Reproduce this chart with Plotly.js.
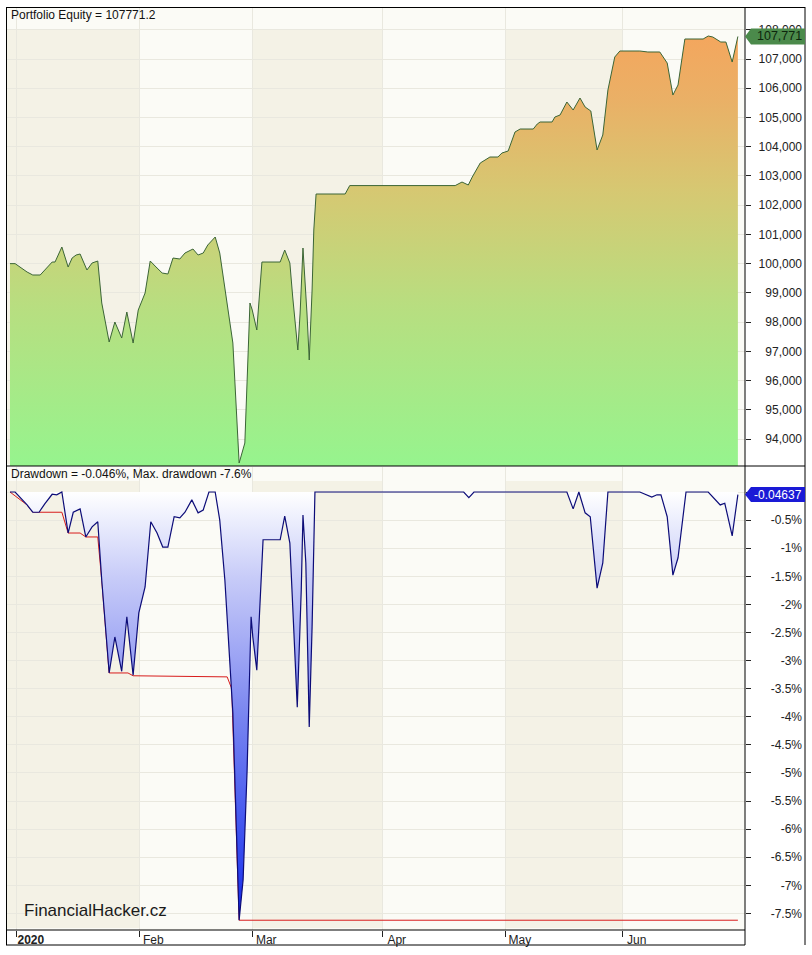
<!DOCTYPE html>
<html><head><meta charset="utf-8">
<script src="https://cdn.plot.ly/plotly-3.0.1.min.js"></script>
<style>html,body{margin:0;padding:0;background:#fff}#chart{width:812px;height:955px}</style>
</head><body><div id="chart"></div>
<script>
// ---- data (x = trading-bar index) ----
const eqX = [0,0.9,3.0,4.0,5.3,6.1,7.4,7.9,9.1,10.2,10.9,11.6,12.3,13.5,14.4,15.4,16.1,17.4,18.4,19.6,20.5,21.6,22.5,23.7,24.6,25.8,26.7,27.7,28.6,29.8,30.7,32.1,33.0,33.9,34.7,36.0,36.8,39.1,40.2,41.2,42.1,42.5,43.3,44.2,47.4,48.2,49.1,49.6,50.5,50.9,51.4,52.1,52.5,53.0,53.3,53.7,58.8,59.6,78.1,79.3,80.4,81.1,82.5,84.2,85.6,86.3,87.4,88.6,89.5,91.8,92.5,93.0,95.1,95.6,96.5,97.7,98.8,100.0,100.9,101.9,103.0,104.0,104.9,106.1,107.0,110.5,111.9,114.0,115.3,116.3,117.2,118.4,121.6,122.5,123.3,124.7,125.6,126.7,127.7];
const eqY = [100000,100000,99713,99611,99611,99782,100055,100055,100569,99884,100192,100295,100329,99782,100021,100090,98653,97319,98003,97455,98345,97284,98413,98995,100090,99850,99679,99645,100192,100158,100363,100500,100295,100363,100637,100911,100363,97284,93179,93863,98653,98413,97729,100055,100055,100466,100021,98858,97045,98311,100534,98311,96703,99097,101150,102382,102382,102670,102670,102792,102690,102963,103442,103647,103647,103784,103853,104503,104605,104605,104776,104845,104845,105016,105084,105529,105255,105666,105358,105221,103887,104400,105939,107068,107274,107274,107240,107240,106863,105768,106111,107684,107684,107787,107753,107582,107582,106897,107771];

const ddX = [0,0.9,3.0,4.0,5.1,6.1,7.4,8.2,9.1,10.2,11.1,12.3,13.3,14.4,15.4,16.1,17.4,18.4,19.6,20.5,21.6,22.6,23.7,24.7,25.8,26.8,27.7,28.8,29.8,30.7,31.9,33.0,33.9,34.9,36.0,36.8,37.7,39.1,40.2,40.9,41.6,42.3,42.6,43.3,44.4,47.4,48.2,49.1,50.4,51.1,51.4,51.9,52.5,53.0,53.5,79.6,80.5,81.4,97.7,98.8,99.8,100.9,101.8,103.0,104.0,104.9,110.5,112.6,113.5,114.2,115.3,116.3,117.2,118.6,122.5,123.3,124.6,125.4,126.7,127.7];
const ddY = [0,0,-0.23,-0.36,-0.36,-0.21,-0.04,-0.05,0,-0.73,-0.36,-0.30,-0.80,-0.62,-0.53,-1.57,-3.22,-2.58,-3.19,-2.22,-3.26,-2.15,-1.69,-0.53,-0.73,-0.98,-0.98,-0.44,-0.46,-0.36,-0.14,-0.37,-0.32,0,0,-0.50,-1.57,-3.93,-7.62,-6.90,-4.95,-2.22,-2.58,-3.17,-0.85,-0.85,-0.43,-0.91,-3.83,-1.74,-0.41,-1.26,-4.18,-2.40,0,0,-0.10,0,0,-0.30,0,-0.37,-0.44,-1.71,-1.26,0,0,-0.09,-0.05,-0.05,-0.44,-1.48,-1.17,0,0,-0.09,-0.23,-0.20,-0.78,-0.046];

const maxDdX = [0,3.0,4.0,9.1,10.2,12.3,13.3,15.4,16.1,17.4,20.7,21.6,38.1,38.9,40.2,127.7];
const maxDdY = [0,-0.23,-0.36,-0.36,-0.73,-0.73,-0.80,-0.80,-1.57,-3.22,-3.22,-3.27,-3.29,-3.50,-7.62,-7.62];

const monthTickVals = [1.2,22.7,42.5,65.4,87.0,107.5];
const monthTickText = ['<b>2020</b>','Feb','Mar','Apr','May','Jun'];
const eqTickVals = [94000,95000,96000,97000,98000,99000,100000,101000,102000,103000,104000,105000,106000,107000,108000];
const ddTickVals = [0,-0.5,-1,-1.5,-2,-2.5,-3,-3.5,-4,-4.5,-5,-5.5,-6,-6.5,-7,-7.5];
const ddTickText = ['0%','-0.5%','-1%','-1.5%','-2%','-2.5%','-3%','-3.5%','-4%','-4.5%','-5%','-5.5%','-6%','-6.5%','-7%','-7.5%'];
const lastEquityText = '107,771';
const lastDdText = '-0.04637';

// ---- geometry ----
const W=812,H=955,L=6,R=7,T=8,B=25;
const PW=W-L-R, PH=H-T-B;
const px = p => (p-L)/PW;
const py = p => (H-B-p)/PH;
const xRange = [-0.7, 128.95];
const eqRange = [93077, 108745];
const ddRange = [-7.794, 0.445];
const FONT = 'Liberation Sans, Arial, sans-serif';

const traces = [
  {x:eqX, y:eqY, type:'scatter', mode:'lines', xaxis:'x', yaxis:'y',
   line:{color:'#3b6536', width:1}, fill:'tozeroy',
   fillgradient:{type:'vertical', start:eqRange[0], stop:eqRange[1],
     colorscale:[[0,'#96f48e'],[0.35,'#b8de80'],[0.6,'#d6c872'],[0.8,'#eab066'],[1,'#f8a25a']]},
   hoverinfo:'skip'},
  {x:maxDdX, y:maxDdY, type:'scatter', mode:'lines', xaxis:'x', yaxis:'y2',
   line:{color:'#d81c1c', width:1}, hoverinfo:'skip'},
  {x:ddX, y:ddY, type:'scatter', mode:'lines', xaxis:'x', yaxis:'y2',
   line:{color:'#0c0c78', width:1.2}, fill:'tozeroy',
   fillgradient:{type:'vertical', start:-7.62, stop:0,
     colorscale:[[0,'#1020e0'],[0.1,'#2a40ee'],[0.475,'#7884f0'],[0.606,'#9aa2f4'],[0.803,'#c8ccf8'],[0.934,'#eceefd'],[1,'#ffffff']]},
   hoverinfo:'skip'},
  {x:[null], y:[null], xaxis:'x', yaxis:'y3', type:'scatter', mode:'lines', hoverinfo:'skip'},
  {x:[null], y:[null], xaxis:'x', yaxis:'y4', type:'scatter', mode:'lines', hoverinfo:'skip'}
];

const shapes = [];
// month bands
const bandBounds = [[xRange[0],monthTickVals[1]],[monthTickVals[2],monthTickVals[3]],[monthTickVals[4],monthTickVals[5]]];
for (const [a,b] of bandBounds) {
  shapes.push({type:'rect', xref:'x', yref:'paper', x0:a, x1:b, y0:py(464), y1:py(30), fillcolor:'#f4f2e6', line:{width:0}, layer:'below'});
  shapes.push({type:'rect', xref:'x', yref:'paper', x0:a, x1:b, y0:py(928), y1:py(481), fillcolor:'#f4f2e6', line:{width:0}, layer:'below'});
}
// frame lines
const fl = (x0,y0,x1,y1) => shapes.push({type:'line', xref:'paper', yref:'paper', x0:px(x0), y0:py(y0), x1:px(x1), y1:py(y1), line:{color:'#000', width:1}, layer:'above'});
fl(6,7.5,805,7.5); fl(6.5,7,6.5,945); fl(805,7,805,945); fl(6,466,805,466);
fl(745,7,745,945); fl(6,930,745,930); fl(6,945,745,945);
// value labels at right
const eqLast = eqY[eqY.length-1], ddLast = ddY[ddY.length-1];
const eqH = 8*(eqRange[1]-eqRange[0])/(466-T), ddH = 7.5*(ddRange[1]-ddRange[0])/(930-467);
const tag = (yref, v, h, col) => shapes.push({type:'path', xref:'paper', yref:yref,
  path:`M ${px(745)},${v} L ${px(751)},${v+h} L ${px(805)},${v+h} L ${px(805)},${v-h} L ${px(751)},${v-h} Z`,
  fillcolor:col, line:{width:0}, layer:'above'});
tag('y', eqLast, eqH, '#4b8a4b');
tag('y2', ddLast, ddH, '#1a1ad6');

const annotations = [
  {text:'Portfolio Equity = 107771.2', xref:'paper', yref:'paper', x:px(9), y:py(15.5), xanchor:'left', yanchor:'middle', showarrow:false, font:{family:FONT, size:12, color:'#111'}},
  {text:'Drawdown = -0.046%, Max. drawdown -7.6%', xref:'paper', yref:'paper', x:px(9), y:py(474), xanchor:'left', yanchor:'middle', showarrow:false, font:{family:FONT, size:12, color:'#111'}},
  {text:'FinancialHacker.cz', xref:'paper', yref:'paper', x:px(22), y:py(910), xanchor:'left', yanchor:'middle', showarrow:false, font:{family:FONT, size:17, color:'#1a1a1a'}},
  {text:lastEquityText, xref:'paper', yref:'y', x:px(755), y:eqLast, xanchor:'left', yanchor:'middle', showarrow:false, font:{family:FONT, size:12.5, color:'#0d260d'}},
  {text:lastDdText, xref:'paper', yref:'y2', x:px(752), y:ddLast, xanchor:'left', yanchor:'middle', showarrow:false, font:{family:FONT, size:12, color:'#ffffff'}}
];

const layout = {
  width:W, height:H, margin:{l:L, r:R, t:T, b:B},
  paper_bgcolor:'#ffffff', plot_bgcolor:'#fbfbf6', showlegend:false, hovermode:false,
  font:{family:FONT, size:12, color:'#222'},
  xaxis:{domain:[0, px(745)], range:xRange, anchor:'y2', tickvals:monthTickVals, ticktext:monthTickText,
    ticks:'outside', ticklen:6, tickcolor:'#222', showgrid:true, gridcolor:'#e9e8df', zeroline:false,
    showline:false, tickfont:{family:FONT, size:12, color:'#222'}, ticklabelshift:14, ticklabelstandoff:-7},
  yaxis:{domain:[py(466),1], range:eqRange, anchor:'x', side:'right', tickvals:eqTickVals, showticklabels:false,
    ticks:'outside', ticklen:5, tickcolor:'#222', showgrid:true, gridcolor:'#e9e8df', zeroline:false, showline:false},
  yaxis2:{domain:[0,py(467)], range:ddRange, anchor:'x', side:'right', tickvals:ddTickVals, showticklabels:false,
    ticks:'outside', ticklen:5, tickcolor:'#222', showgrid:true, gridcolor:'#e9e8df', zeroline:false, showline:false},
  yaxis3:{overlaying:'y', anchor:'free', position:1, side:'left', range:eqRange, tickvals:eqTickVals, tickformat:',',
    ticks:'', showgrid:false, zeroline:false, showline:false, ticklabelstandoff:3, tickfont:{family:FONT, size:12, color:'#222'}},
  yaxis4:{overlaying:'y2', anchor:'free', position:1, side:'left', range:ddRange, tickvals:ddTickVals, ticktext:ddTickText,
    ticks:'', showgrid:false, zeroline:false, showline:false, ticklabelstandoff:3, tickfont:{family:FONT, size:12, color:'#222'}},
  shapes:shapes, annotations:annotations
};

Plotly.newPlot('chart', traces, layout, {staticPlot:true, displayModeBar:false});
</script>
</body></html>
